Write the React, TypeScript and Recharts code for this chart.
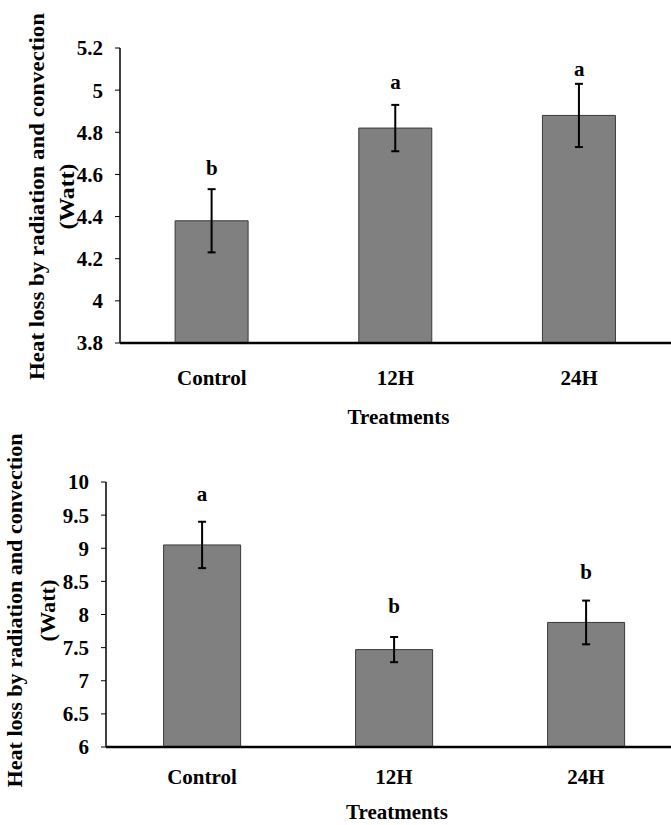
import React from "react"
import { Bar, ComposedChart, ErrorBar, Label, LabelList, Line, XAxis, YAxis } from "recharts"

const categories = ["Control", "12H", "24H"]

// upper panel
const topValues = [4.38, 4.82, 4.88]
const topErrors = [0.15, 0.11, 0.15]
const topLetters = ["b", "a", "a"]
const topLetterAt = [4.63, 5.04, 5.1]
const topTicks = [3.8, 4, 4.2, 4.4, 4.6, 4.8, 5, 5.2]

// lower panel
const bottomValues = [9.05, 7.47, 7.88]
const bottomErrors = [0.35, 0.19, 0.33]
const bottomLetters = ["a", "b", "b"]
const bottomLetterAt = [9.82, 8.13, 8.64]
const bottomTicks = [6, 6.5, 7, 7.5, 8, 8.5, 9, 9.5, 10]

const edgeTicks = [0, 1, 2, 3]

const yTitle = "Heat loss by radiation and convection"
const yUnit = "(Watt)"
const xTitle = "Treatments"

const font = '"Liberation Serif", "Times New Roman", serif'

const build = (values: number[], errors: number[], letters: string[], letterAt: number[]) =>
  categories.map((name, i) => ({
    name,
    value: values[i],
    err: errors[i],
    letter: letters[i],
    letterAt: letterAt[i],
  }))

const topData = build(topValues, topErrors, topLetters, topLetterAt)
const bottomData = build(bottomValues, bottomErrors, bottomLetters, bottomLetterAt)

type PanelProps = {
  data: any[]
  ticks: number[]
  width: number
  height: number
  margin: { top: number; right: number; bottom: number; left: number }
  catMargin: number
  title: { line1: number; line2: number; dy: number; len1: number; len2: number }
  xTitleDy: number
}

function Panel({ data, ticks, width, height, margin, catMargin, title, xTitleDy }: PanelProps) {
  const domain = [ticks[0], ticks[ticks.length - 1]]
  return (
    <ComposedChart width={width} height={height} data={data} margin={margin} barCategoryGap="30%">
      {/* plain axis line with tick marks between the categories */}
      <XAxis
        xAxisId={0}
        type="number"
        domain={[0, 3]}
        ticks={edgeTicks}
        interval={0}
        allowDataOverflow
        height={1}
        tick={false}
        tickSize={5}
        axisLine={{ stroke: "#000", strokeWidth: 2.5 }}
        tickLine={{ stroke: "#555", strokeWidth: 1.5 }}
      />
      <XAxis
        xAxisId="cat"
        dataKey="name"
        height={76}
        axisLine={false}
        tickLine={false}
        tickSize={6}
        tickMargin={catMargin}
        tick={{ fill: "#000", fontSize: 21, fontWeight: 700, fontFamily: font }}
      >
        <Label
          content={(p: any) => {
            const vb = p.viewBox
            return (
              <text
                x={vb.x + vb.width / 2 + 3}
                y={vb.y + xTitleDy}
                textAnchor="middle"
                dominantBaseline="central"
                fill="#000"
                fontSize={21}
                fontWeight={700}
                fontFamily={font}
              >
                {xTitle}
              </text>
            )
          }}
        />
      </XAxis>
      <YAxis
        width={60}
        domain={domain}
        ticks={ticks}
        interval={0}
        tickSize={5}
        tickMargin={12}
        axisLine={{ stroke: "#000", strokeWidth: 1.5 }}
        tickLine={{ stroke: "#000", strokeWidth: 1 }}
        tick={{ fill: "#000", fontSize: 21, fontWeight: 700, fontFamily: font }}
      >
        <Label
          content={(p: any) => {
            const vb = p.viewBox
            const right = vb.x + vb.width
            const cy = vb.y + vb.height / 2 + title.dy
            const x1 = right - title.line1
            const x2 = right - title.line2
            return (
              <g fill="#000" fontSize={20} fontWeight={700} fontFamily={font}>
                <text
                  x={x1}
                  y={cy}
                  transform={`rotate(-90, ${x1}, ${cy})`}
                  textAnchor="middle"
                  dominantBaseline="central"
                  textLength={title.len1}
                  lengthAdjust="spacingAndGlyphs"
                >
                  {yTitle}
                </text>
                <text
                  x={x2}
                  y={cy}
                  transform={`rotate(-90, ${x2}, ${cy})`}
                  textAnchor="middle"
                  dominantBaseline="central"
                  textLength={title.len2}
                  lengthAdjust="spacingAndGlyphs"
                >
                  {yUnit}
                </text>
              </g>
            )
          }}
        />
      </YAxis>
      <Bar xAxisId="cat" dataKey="value" fill="#808080" stroke="#3a3a3a" strokeWidth={1} isAnimationActive={false}>
        <ErrorBar dataKey="err" width={4} stroke="#000" strokeWidth={2} direction="y" />
      </Bar>
      <Line
        xAxisId="cat"
        dataKey="letterAt"
        stroke="none"
        dot={false}
        activeDot={false}
        isAnimationActive={false}
      >
        <LabelList
          dataKey="letter"
          content={(p: any) => (
            <text
              x={p.x}
              y={p.y}
              textAnchor="middle"
              dominantBaseline="central"
              fill="#000"
              fontSize={21}
              fontWeight={700}
              fontFamily={font}
            >
              {p.value}
            </text>
          )}
        />
      </Line>
    </ComposedChart>
  )
}

export default function App() {
  return (
    <div
      style={{
        position: "absolute",
        left: 0,
        top: 0,
        width: 671,
        height: 825,
        overflow: "hidden",
        background: "#fff",
      }}
    >
      <div style={{ position: "absolute", left: 0, top: 0 }}>
        <Panel
          data={topData}
          ticks={topTicks}
          width={671}
          height={430}
          margin={{ top: 48, right: 0, bottom: 10, left: 60 }}
          catMargin={20}
          title={{ line1: 83, line2: 53, dy: 1, len1: 367, len2: 66 }}
          xTitleDy={73}
        />
      </div>
      <div style={{ position: "absolute", left: 0, top: 420 }}>
        <Panel
          data={bottomData}
          ticks={bottomTicks}
          width={700}
          height={405}
          margin={{ top: 62, right: 18, bottom: 1, left: 46 }}
          catMargin={15}
          title={{ line1: 91, line2: 58, dy: -4, len1: 354, len2: 62 }}
          xTitleDy={64}
        />
      </div>
    </div>
  )
}
